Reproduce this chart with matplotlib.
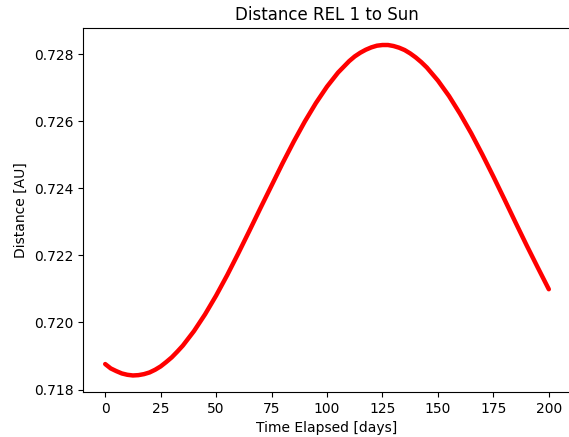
import matplotlib
matplotlib.use("Agg")
import matplotlib.pyplot as plt

# sampled distance of REL 1 from the Sun (finer steps around the turning points)
days = [0, 2.5, 5, 7.5, 10, 12.5, 15, 17.5, 20, 22.5, 25, 27.5, 30, 32.5, 35, 40, 45,
        50, 55, 60, 65, 70, 75, 80, 85, 90, 95, 100, 105, 110, 112.5, 115, 117.5, 120,
        122.5, 125, 127.5, 130, 132.5, 135, 137.5, 140, 142.5, 145, 150, 155, 160, 165,
        170, 175, 180, 185, 190, 195, 200]
distance_au = [0.71876, 0.71863, 0.71855, 0.71848, 0.71844, 0.71842, 0.71843, 0.71846,
               0.71851, 0.71859, 0.71869, 0.71882, 0.71896, 0.71913, 0.71931, 0.71974,
               0.72024, 0.72080, 0.72141, 0.72206, 0.72273, 0.72341, 0.72408, 0.72475,
               0.72539, 0.72599, 0.72654, 0.72703, 0.72745, 0.72779, 0.72793, 0.72804,
               0.72813, 0.72820, 0.72825, 0.72827, 0.72827, 0.72824, 0.72819, 0.72812,
               0.72802, 0.72790, 0.72776, 0.72760, 0.72721, 0.72675, 0.72622, 0.72564,
               0.72501, 0.72435, 0.72367, 0.72298, 0.72230, 0.72164, 0.72099]

fig = plt.figure(figsize=(5.69, 4.37), dpi=100)
ax = fig.add_axes([0.1459, 0.1030, 0.8576, 0.8318])

ax.plot(days, distance_au, color='red', linewidth=3.2,
        solid_capstyle='round', solid_joinstyle='round')

ax.set_title('Distance REL 1 to Sun')
ax.set_xlabel('Time Elapsed [days]')
ax.set_ylabel('Distance [AU]')

fig.savefig('out.png', dpi=100)
